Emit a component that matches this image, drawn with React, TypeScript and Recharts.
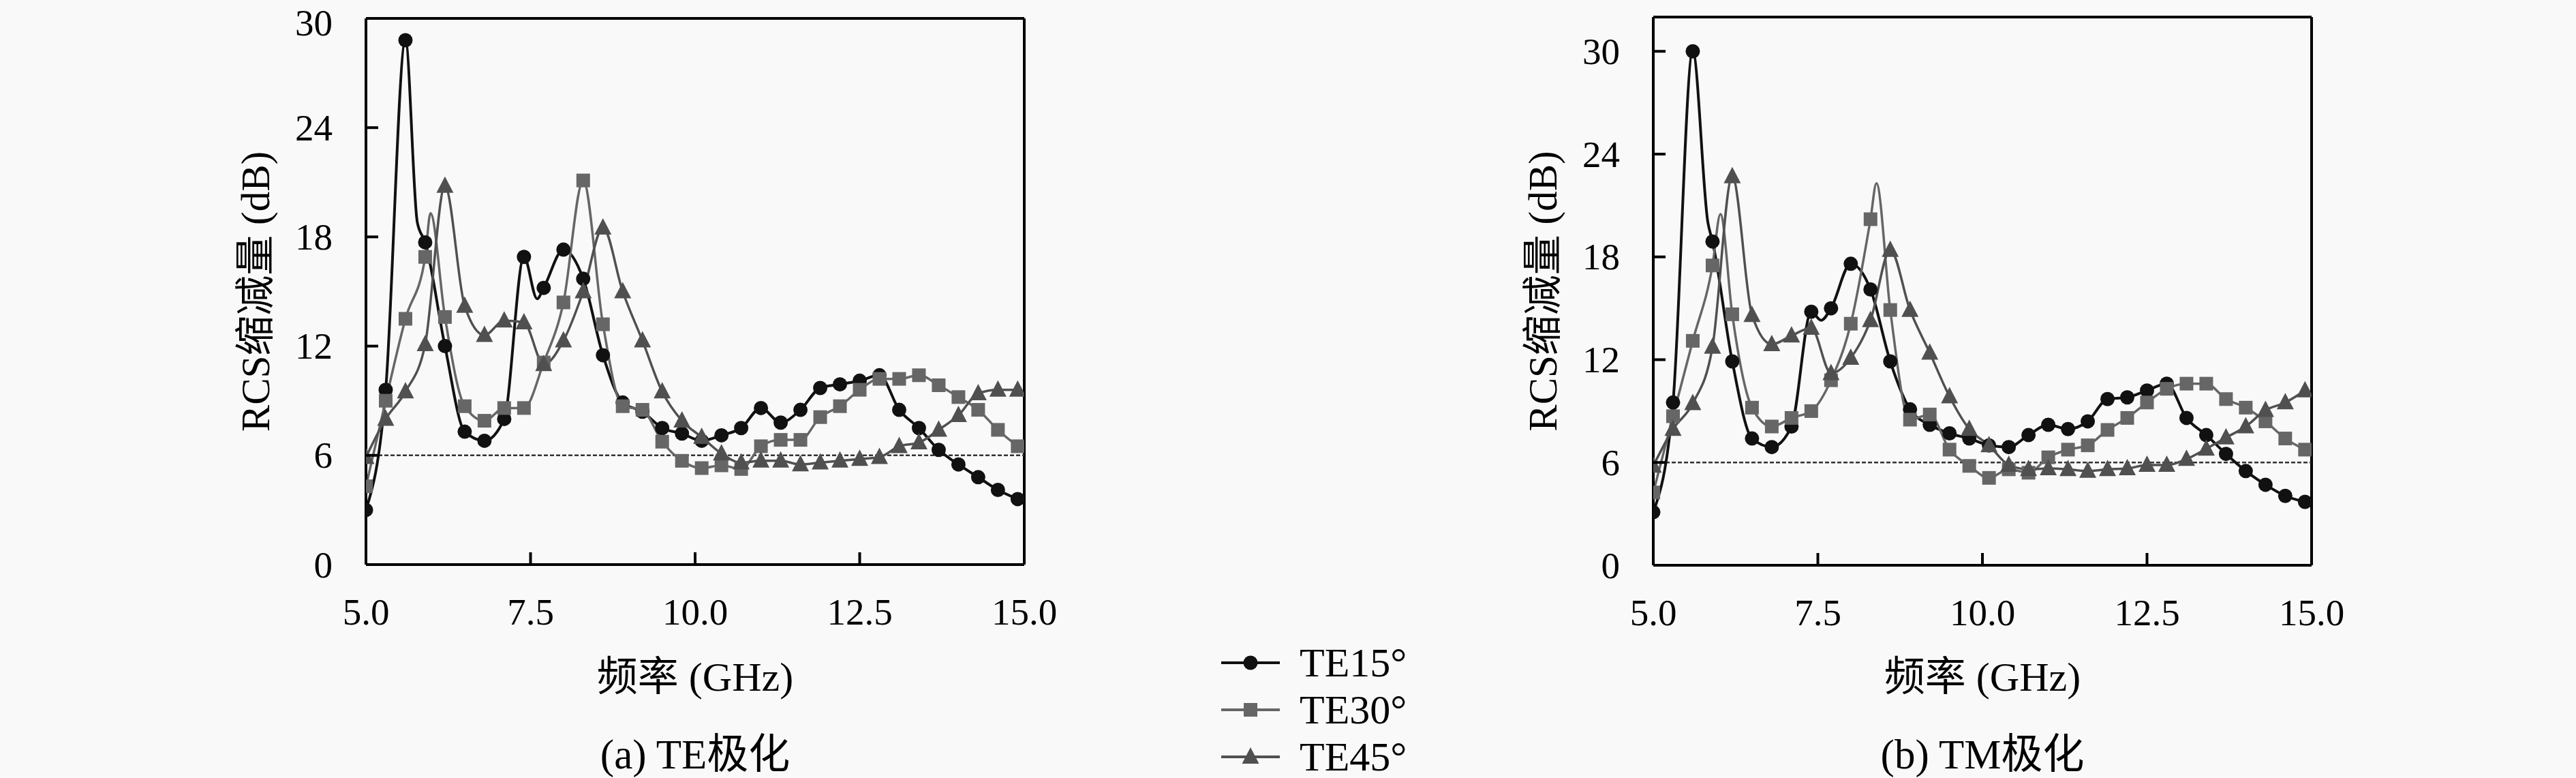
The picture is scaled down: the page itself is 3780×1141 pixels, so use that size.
import React from 'react';
import { LineChart, Line, XAxis, YAxis, ReferenceLine, CartesianGrid, Legend, Label } from 'recharts';

const freqs = [5.0, 5.3, 5.6, 5.9, 6.2, 6.5, 6.8, 7.1, 7.4, 7.7, 8.0, 8.3, 8.6, 8.9, 9.2, 9.5, 9.8, 10.1, 10.4, 10.7, 11.0, 11.3, 11.6, 11.9, 12.2, 12.5, 12.8, 13.1, 13.4, 13.7, 14.0, 14.3, 14.6, 14.9];

// (a) TE polarisation
const te15TE = [3.0, 9.6, 28.8, 17.7, 12.0, 7.3, 6.8, 8.0, 16.9, 15.2, 17.3, 15.7, 11.5, 8.9, 8.4, 7.5, 7.2, 6.8, 7.1, 7.5, 8.6, 7.8, 8.5, 9.7, 9.9, 10.1, 10.4, 8.5, 7.5, 6.3, 5.5, 4.8, 4.1, 3.6];
const te30TE = [4.3, 9.0, 13.5, 16.9, 13.6, 8.7, 7.9, 8.6, 8.6, 11.1, 14.4, 21.1, 13.2, 8.7, 8.5, 6.75, 5.7, 5.3, 5.45, 5.25, 6.5, 6.85, 6.85, 8.1, 8.7, 9.6, 10.2, 10.2, 10.4, 9.85, 9.2, 8.5, 7.4, 6.5];
const te45TE = [5.9, 8.0, 9.5, 12.1, 20.8, 14.2, 12.6, 13.4, 13.3, 11.0, 12.3, 15.0, 18.5, 15.0, 12.3, 9.5, 7.9, 7.0, 6.1, 5.6, 5.7, 5.7, 5.5, 5.6, 5.7, 5.8, 5.9, 6.5, 6.7, 7.4, 8.2, 9.4, 9.6, 9.6];
// unmarked curve points between markers (peaks / shoulders)
const te15TEExtra = [[5.78, 18.8], [7.6, 14.6]];
const te30TEExtra = [[5.98, 19.3]];
const te45TEExtra: number[][] = [];

// (b) TM polarisation
const te15TM = [3.1, 9.5, 30.0, 18.9, 11.9, 7.4, 6.9, 8.1, 14.8, 15.0, 17.6, 16.1, 11.9, 9.1, 8.2, 7.7, 7.4, 7.0, 6.9, 7.6, 8.2, 7.95, 8.4, 9.7, 9.8, 10.2, 10.6, 8.6, 7.6, 6.5, 5.5, 4.7, 4.05, 3.7];
const te30TM = [4.25, 8.7, 13.1, 17.5, 14.65, 9.2, 8.1, 8.6, 9.0, 10.8, 14.1, 20.2, 14.9, 8.5, 8.8, 6.75, 5.8, 5.1, 5.6, 5.4, 6.3, 6.75, 7.0, 7.9, 8.6, 9.5, 10.3, 10.6, 10.6, 9.7, 9.2, 8.4, 7.4, 6.75];
const te45TM = [5.8, 7.95, 9.45, 12.75, 22.7, 14.6, 12.9, 13.4, 13.85, 11.2, 12.1, 14.3, 18.4, 14.9, 12.4, 9.85, 7.95, 7.0, 5.85, 5.6, 5.65, 5.6, 5.5, 5.6, 5.65, 5.85, 5.85, 6.2, 6.8, 7.45, 8.1, 9.05, 9.5, 10.2];
const te15TMExtra = [[5.83, 20.0], [7.55, 14.3]];
const te30TMExtra = [[6.02, 20.5], [8.39, 22.3]];
const te45TMExtra: number[][] = [];

const seriesNames = ['TE15°', 'TE30°', 'TE45°'];
const xTicks = [5, 7.5, 10, 12.5, 15];
const yTicks = [0, 6, 12, 18, 24, 30];
const thresholdValue = 6;

const FONT = "'Liberation Serif', 'DejaVu Serif', 'Noto Sans CJK SC', serif";
const COLORS = ['#111111', '#666666', '#505050'];
const WIDTHS = [4, 3.5, 3.5];
const SHAPES = ['circle', 'square', 'triangle'];

function build(vals: number[], extra: number[][]) {
  const pts = freqs.map((f, i) => ({ x: f, y: vals[i], m: true }));
  extra.forEach(([x, y]) => pts.push({ x, y, m: false }));
  pts.sort((a, b) => a.x - b.x);
  return pts;
}

function Marker({ shape, cx, cy, color }: any) {
  if (shape === 'circle') return <circle cx={cx} cy={cy} r={10.5} fill={color} />;
  if (shape === 'square') return <rect x={cx - 10} y={cy - 10} width={20} height={20} fill={color} />;
  return <polygon points={`${cx},${cy - 14} ${cx + 12.5},${cy + 10} ${cx - 12.5},${cy + 10}`} fill={color} />;
}

const makeDot = (shape: string, color: string) => (props: any) => {
  const { cx, cy, payload, index } = props;
  if (!payload || !payload.m || cx == null || cy == null) return <g key={`n${index}`} />;
  return <g key={`d${index}`}><Marker shape={shape} cx={cx} cy={cy} color={color} /></g>;
};

const renderLegend = (props: any) => {
  const payload = props.payload || [];
  return (
    <div style={{ fontFamily: FONT, fontSize: 60, color: '#000' }}>
      {payload.map((e: any, i: number) => (
        <div key={i} style={{ display: 'flex', alignItems: 'center', height: 69 }}>
          <svg width={90} height={40} style={{ overflow: 'visible' }}>
            <line x1={0} y1={20} x2={86} y2={20} stroke={COLORS[i]} strokeWidth={4} />
            <Marker shape={SHAPES[i]} cx={43} cy={20} color={COLORS[i]} />
          </svg>
          <span style={{ marginLeft: 25, lineHeight: 1 }}>{e.value}</span>
        </div>
      ))}
    </div>
  );
};

const YW = 100;
const XH = 100;
const H = 1141;
const TICK_LEN = 18;

function Panel({ left, width, plotLeft, plotRight, plotTop, plotBottom, yMax, data, subtitle, legend }: any) {
  const margin = {
    top: plotTop,
    left: plotLeft - left - YW,
    right: left + width - plotRight,
    bottom: H - plotBottom - XH,
  };
  const pl = plotLeft - left;
  const pr = plotRight - left;
  const midX = (plotLeft + plotRight) / 2 - left;
  const midY = (plotTop + plotBottom) / 2;

  const XTick = (p: any) => (
    <g>
      <line x1={p.x} x2={p.x} y1={plotBottom} y2={plotBottom - TICK_LEN} stroke="#000" strokeWidth={4} />
      <text x={p.x} y={plotBottom + 69} textAnchor="middle" dominantBaseline="central" fontSize={55}
        style={{ fontFamily: FONT }} fill="#000">
        {Number(p.payload.value).toFixed(1)}
      </text>
    </g>
  );
  const YTick = (p: any) => (
    <g>
      <line x1={pl} x2={pl + TICK_LEN} y1={p.y} y2={p.y} stroke="#000" strokeWidth={4} />
      <text x={pl - 49} y={Math.max(p.y, 33)} textAnchor="end" dominantBaseline="central" fontSize={55}
        style={{ fontFamily: FONT }} fill="#000">
        {p.payload.value}
      </text>
    </g>
  );

  return (
    <div style={{ position: 'absolute', left, top: 0, width, height: H }}>
      <LineChart width={width} height={H} margin={margin}>
        <CartesianGrid
          horizontalPoints={[plotTop, plotBottom]}
          verticalPoints={[pl, pr]}
          stroke="#000"
          strokeWidth={4}
        />
        <XAxis
          type="number"
          dataKey="x"
          domain={[5, 15]}
          ticks={xTicks}
          height={XH}
          allowDataOverflow
          axisLine={{ stroke: '#000', strokeWidth: 4 }}
          tickLine={false}
          tick={XTick}
          interval={0}
        >
          <Label
            position="bottom"
            content={() => (
              <g>
                <text x={midX} y={993} textAnchor="middle" dominantBaseline="central" fontSize={60}
                  style={{ fontFamily: FONT }} fill="#000">
                  频率 (GHz)
                </text>
                <text x={midX} y={1106} textAnchor="middle" dominantBaseline="central" fontSize={61}
                  style={{ fontFamily: FONT }} fill="#000">
                  {subtitle}
                </text>
              </g>
            )}
          />
        </XAxis>
        <YAxis
          type="number"
          domain={[0, yMax]}
          ticks={yTicks}
          width={YW}
          allowDataOverflow
          axisLine={{ stroke: '#000', strokeWidth: 4 }}
          tickLine={false}
          tick={YTick}
          interval={0}
        >
          <Label
            position="left"
            content={() => (
              <text
                x={pl - 162}
                y={midY}
                transform={`rotate(-90, ${pl - 162}, ${midY})`}
                textAnchor="middle"
                dominantBaseline="central"
                fontSize={59}
                style={{ fontFamily: FONT }}
                fill="#000"
              >
                RCS缩减量 (dB)
              </text>
            )}
          />
        </YAxis>
        <ReferenceLine y={thresholdValue} stroke="#333" strokeWidth={2.5} strokeDasharray="6 3" />
        {data.map((d: any[], i: number) => (
          <Line
            key={i}
            data={d}
            dataKey="y"
            name={seriesNames[i]}
            type="monotone"
            stroke={COLORS[i]}
            strokeWidth={WIDTHS[i]}
            dot={makeDot(SHAPES[i], COLORS[i])}
            activeDot={false}
            isAnimationActive={false}
          />
        ))}
        {legend ? (
          <Legend
            layout="vertical"
            align="center"
            verticalAlign="middle"
            content={renderLegend}
            wrapperStyle={{ position: 'absolute', left: 1792, top: 937, width: 320, margin: 0 }}
          />
        ) : null}
      </LineChart>
    </div>
  );
}

export default function App() {
  const dataTE = [build(te15TE, te15TEExtra), build(te30TE, te30TEExtra), build(te45TE, te45TEExtra)];
  const dataTM = [build(te15TM, te15TMExtra), build(te30TM, te30TMExtra), build(te45TM, te45TMExtra)];
  return (
    <div style={{ position: 'absolute', left: 0, top: 0, width: 3780, height: H, background: '#f9f9f9', overflow: 'hidden' }}>
      <Panel left={0} width={1950} plotLeft={537} plotRight={1503} plotTop={27} plotBottom={828} yMax={30}
        data={dataTE} subtitle="(a) TE极化" legend />
      <Panel left={1950} width={1830} plotLeft={2426} plotRight={3392} plotTop={25} plotBottom={829} yMax={32}
        data={dataTM} subtitle="(b) TM极化" legend={false} />
    </div>
  );
}
